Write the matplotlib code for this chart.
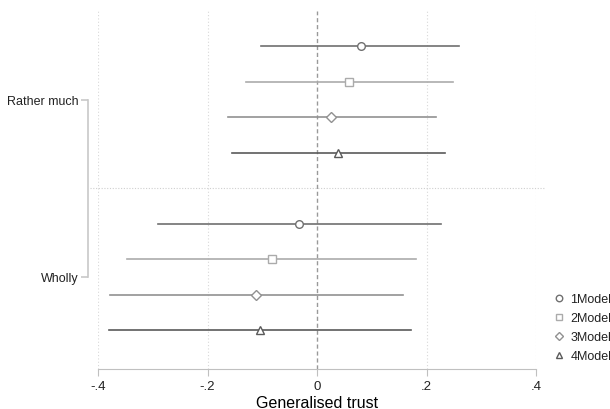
import matplotlib.pyplot as plt

plt.rcParams['font.family'] = ['Liberation Sans', 'DejaVu Sans']
plt.rcParams['text.color'] = '#222222'
plt.rcParams['xtick.labelcolor'] = '#222222'
plt.rcParams['ytick.labelcolor'] = '#222222'

groups = ['Rather much', 'Wholly']
models = ['1Model', '2Model', '3Model', '4Model']

# point estimates and confidence bounds, per group, per model
estimates = [
    [0.080, 0.059, 0.026, 0.038],
    [-0.033, -0.083, -0.111, -0.104],
]
lower = [
    [-0.102, -0.130, -0.163, -0.156],
    [-0.290, -0.347, -0.378, -0.380],
]
upper = [
    [0.259, 0.248, 0.217, 0.233],
    [0.226, 0.181, 0.157, 0.171],
]

xticks = [-0.4, -0.2, 0, 0.2, 0.4]
xticklabels = ['-.4', '-.2', '0', '.2', '.4']

markers = ['o', 's', 'D', '^']
msizes = [5.5, 5.5, 5, 5.5]
colors = ['#707070', '#ababab', '#919191', '#5a5a5a']

fig = plt.figure(figsize=(6.1, 4.1), dpi=100)
ax = fig.add_axes([98 / 610, 40 / 410, 438 / 610, 358 / 410])

for x in xticks:
    if x != 0:
        ax.axvline(x, color='#d8d8d8', lw=0.8, ls=(0, (1, 2)), zorder=0)
ax.axvline(0, color='#999999', lw=1.0, ls=(0, (3, 2)), zorder=1)

for g in range(len(groups)):
    for m in range(len(models)):
        y = g * (len(models) + 1) + m
        ax.plot([lower[g][m], upper[g][m]], [y, y], color=colors[m], lw=1.2, zorder=2)
        ax.plot(estimates[g][m], y, marker=markers[m], ms=msizes[m], mfc='white',
                mec=colors[m], mew=1.0, ls='none', zorder=3,
                label=models[m] if g == 0 else None)

sep = len(models)
ax.plot([-0.415, 0.417], [sep, sep], color='#cfcfcf', lw=0.8, ls=(0, (1, 1.5)),
        clip_on=False, zorder=0)

ax.set_xlim(-0.4, 0.4)
ax.set_ylim(2 * len(models) + 1.1, -1)
ax.set_xticks(xticks)
ax.set_xticklabels(xticklabels)
ax.set_xlabel('Generalised trust', fontsize=11.5, labelpad=2)

centers = [(len(models) - 1) / 2 + g * (len(models) + 1) for g in range(len(groups))]
ax.set_yticks(centers)
ax.set_yticklabels(groups)

for s in ['top', 'right']:
    ax.spines[s].set_visible(False)
ax.spines['bottom'].set_color('#c0c0c0')
ax.spines['left'].set_color('#c8c8c8')
ax.spines['left'].set_linewidth(1.2)
ax.spines['left'].set_position(('outward', 7))
ax.spines['left'].set_bounds(centers[0], centers[-1])
ax.tick_params(axis='x', length=5, color='#c0c0c0', labelsize=9.5, pad=3)
ax.tick_params(axis='y', length=5, color='#c8c8c8', width=1.2, labelsize=9, pad=2)

ax.legend(loc='upper left', bbox_to_anchor=(548 / 610, (410 - 288) / 410),
          bbox_transform=fig.transFigure, frameon=False, fontsize=9,
          handlelength=0.8, handletextpad=0.5, labelspacing=0.55, borderpad=0,
          markerscale=0.85)

fig.savefig('out.png', dpi=100)
